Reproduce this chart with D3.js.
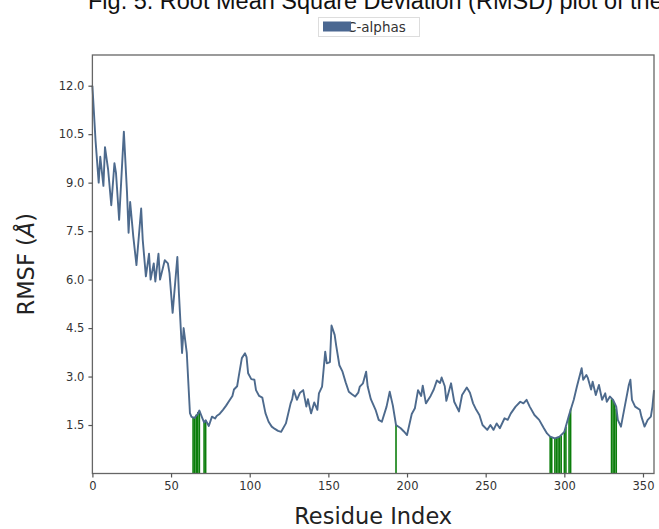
<!DOCTYPE html>
<html>
<head>
<meta charset="utf-8">
<script src="https://cdn.jsdelivr.net/npm/d3@7"></script>
<style>
  html, body { margin: 0; padding: 0; background: #fff; }
  svg { display: block; }
</style>
</head>
<body>
<svg id="chart" width="659" height="529"></svg>
<script>
const titleText = "Fig. 5. Root Mean Square Deviation (RMSD) plot of the";
const seriesName = "C-alphas";
const xLabel = "Residue Index";

const residues = [0, 2, 4, 5, 7, 8, 10, 12, 14, 15, 17, 20, 22, 23, 24, 26, 28, 31, 32, 34, 36, 37, 39, 40, 42, 43, 46, 48, 49, 51, 54, 55, 57, 58, 60, 62, 63, 65, 67, 68, 70, 71, 72, 74, 76, 78, 79, 81, 83, 85, 87, 89, 90, 92, 93, 95, 97, 98, 99, 101, 103, 104, 106, 108, 110, 112, 114, 116, 118, 120, 123, 126, 127, 128, 130, 132, 134, 136, 137, 139, 141, 143, 144, 146, 148, 149, 151, 152, 154, 155, 157, 159, 161, 163, 165, 167, 169, 170, 172, 174, 175, 177, 180, 182, 184, 187, 189, 191, 193, 196, 198, 200, 203, 205, 207, 209, 210, 212, 215, 217, 219, 221, 222, 224, 225, 228, 230, 233, 235, 238, 240, 242, 244, 246, 248, 251, 253, 255, 257, 259, 262, 264, 266, 269, 272, 274, 276, 278, 281, 284, 287, 289, 291, 294, 297, 300, 303, 306, 308, 311, 312, 314, 315, 317, 318, 320, 322, 324, 326, 327, 329, 331, 333, 334, 336, 338, 341, 342, 343, 345, 348, 349, 351, 353, 355, 356, 357];
const rmsf = [12.0, 10.3, 9.0, 9.8, 8.9, 10.1, 9.4, 8.3, 9.6, 9.3, 7.85, 10.58, 8.7, 7.45, 8.4, 7.33, 6.45, 8.2, 7.23, 6.1, 6.8, 6.0, 6.5, 5.94, 6.8, 6.0, 6.6, 6.5, 6.2, 4.97, 6.7, 5.58, 3.73, 4.5, 3.73, 1.87, 1.75, 1.72, 1.85, 1.95, 1.7, 1.58, 1.65, 1.47, 1.76, 1.7, 1.78, 1.85, 1.97, 2.1, 2.25, 2.4, 2.6, 2.7, 3.0, 3.57, 3.72, 3.6, 3.1, 2.92, 2.9, 2.58, 2.4, 2.35, 1.87, 1.6, 1.45, 1.38, 1.32, 1.29, 1.55, 2.17, 2.3, 2.58, 2.28, 2.5, 2.58, 2.07, 2.3, 1.86, 2.2, 1.97, 2.48, 2.69, 3.77, 3.41, 3.45, 4.58, 4.29, 3.95, 3.35, 3.15, 2.82, 2.53, 2.45, 2.38, 2.5, 2.69, 2.79, 3.15, 2.69, 2.3, 1.97, 1.66, 1.6, 2.07, 2.53, 2.1, 1.5, 1.4, 1.3, 1.19, 1.84, 2.02, 2.58, 2.4, 2.72, 2.17, 2.4, 2.6, 2.88, 2.8, 2.97, 2.7, 2.25, 2.79, 2.22, 1.92, 2.43, 2.66, 2.5, 2.17, 1.97, 1.81, 1.5, 1.35, 1.5, 1.35, 1.55, 1.4, 1.71, 1.66, 1.86, 2.07, 2.22, 2.17, 2.28, 2.07, 1.81, 1.66, 1.4, 1.24, 1.14, 1.09, 1.14, 1.29, 1.81, 2.28, 2.69, 3.26, 2.9, 3.05, 2.95, 2.6, 2.84, 2.43, 2.74, 2.28, 2.48, 2.22, 2.38, 2.28, 2.07, 1.66, 1.45, 1.97, 2.74, 2.9, 2.28, 2.07, 1.97, 1.76, 1.45, 1.66, 1.76, 2.07, 2.58];

const contactResidues = [64, 65, 66, 67, 68, 71, 72, 193, 291, 292, 294, 295, 296, 297, 298, 300, 301, 303, 304, 330, 331, 332, 333];
const contactRmsf = [1.74, 1.74, 1.82, 1.9, 1.93, 1.6, 1.64, 1.5, 1.14, 1.12, 1.09, 1.1, 1.12, 1.14, 1.18, 1.29, 1.45, 1.8, 2.0, 2.3, 2.28, 2.15, 2.0];

const xTicks = [0, 50, 100, 150, 200, 250, 300, 350];
const yTicks = [1.5, 3.0, 4.5, 6.0, 7.5, 9.0, 10.5, 12.0];

const svg = d3.select("#chart");
const plot = { left: 92.4, right: 654, top: 55, bottom: 473.5 };

const x = d3.scaleLinear().domain([0, 357]).range([plot.left, plot.right]);
const y = d3.scaleLinear().domain([0, 12.95]).range([plot.bottom, plot.top]);

const lineColor = "#4d6a8d";
const greenColor = "#0b7d0b";

// Title (clipped at top, as in the source figure)
svg.append("text")
  .attr("x", 88).attr("y", 9)
  .attr("font-family", "Liberation Sans, Arial, sans-serif")
  .attr("font-size", 23.5)
  .attr("fill", "#111")
  .text(titleText);

// Legend
const lg = svg.append("g");
lg.append("rect").attr("x", 318.5).attr("y", 17.5).attr("width", 101).attr("height", 19)
  .attr("fill", "#fff").attr("stroke", "#ddd").attr("stroke-width", 1);
lg.append("text").attr("x", 347).attr("y", 32)
  .attr("font-family", "DejaVu Sans, sans-serif").attr("font-size", 13.5)
  .attr("fill", "#333").text(seriesName);
lg.append("rect").attr("x", 323).attr("y", 21.5).attr("width", 28).attr("height", 10)
  .attr("fill", "#4a6791");

// Contact bars
const barW = x(1) - x(0);
svg.append("g").selectAll("rect")
  .data(contactResidues.map((r, i) => ({ r, v: contactRmsf[i] })))
  .join("rect")
  .attr("x", d => x(d.r) - barW / 2)
  .attr("y", d => y(d.v))
  .attr("width", barW)
  .attr("height", d => y(0) - y(d.v))
  .attr("fill", greenColor);

// RMSF line
const data = residues.map((r, i) => ({ r, v: rmsf[i] }));
svg.append("path")
  .datum(data)
  .attr("fill", "none")
  .attr("stroke", lineColor)
  .attr("stroke-width", 1.9)
  .attr("stroke-linejoin", "round")
  .attr("d", d3.line().x(d => x(d.r)).y(d => y(d.v)));

// Frame
svg.append("rect")
  .attr("x", plot.left).attr("y", plot.top)
  .attr("width", plot.right - plot.left).attr("height", plot.bottom - plot.top)
  .attr("fill", "none").attr("stroke", "#666").attr("stroke-width", 1.3);

// Axes
const xAxis = svg.append("g").attr("transform", `translate(0,${plot.bottom})`)
  .call(d3.axisBottom(x).tickValues(xTicks).tickSize(4).tickPadding(4).tickFormat(d3.format("d")));
const yAxis = svg.append("g").attr("transform", `translate(${plot.left},0)`)
  .call(d3.axisLeft(y).tickValues(yTicks).tickSize(4).tickPadding(4).tickFormat(d3.format(".1f")));
[xAxis, yAxis].forEach(a => {
  a.select(".domain").remove();
  a.selectAll(".tick line").attr("stroke", "#555").attr("stroke-width", 1.2);
  a.selectAll(".tick text").attr("font-family", "DejaVu Sans, sans-serif")
    .attr("font-size", 11.5).attr("fill", "#333");
});

// Axis labels
svg.append("text")
  .attr("x", (plot.left + plot.right) / 2).attr("y", 524)
  .attr("text-anchor", "middle")
  .attr("font-family", "DejaVu Sans, sans-serif").attr("font-size", 22.5)
  .attr("fill", "#222").text(xLabel);

const yl = svg.append("text")
  .attr("transform", `translate(34,${(plot.top + plot.bottom) / 2}) rotate(-90)`)
  .attr("text-anchor", "middle")
  .attr("font-family", "DejaVu Sans, sans-serif").attr("font-size", 22.5)
  .attr("fill", "#222");
yl.append("tspan").text("RMSF (");
yl.append("tspan").attr("font-style", "italic").text("Å");
yl.append("tspan").text(")");
</script>
</body>
</html>
